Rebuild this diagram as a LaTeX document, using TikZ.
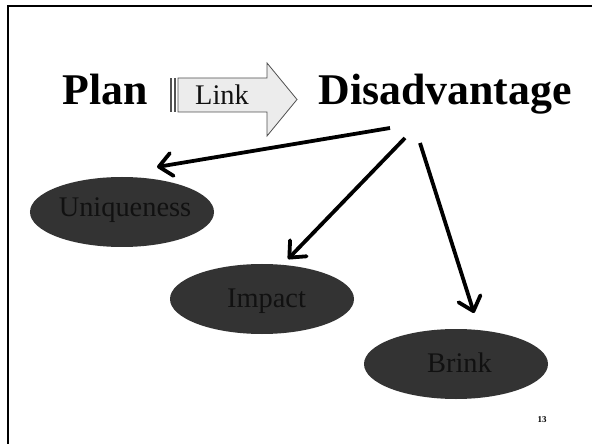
\documentclass[tikz,border=0pt]{standalone}
\usepackage{fontspec}
\setmainfont{Liberation Serif}
\usetikzlibrary{arrows.meta,shapes.geometric}
\definecolor{blobgray}{RGB}{51,51,51}
\definecolor{textdark}{RGB}{17,17,17}
\definecolor{arrowfill}{RGB}{236,236,236}
\definecolor{arrowline}{RGB}{80,80,80}
\begin{document}
\begin{tikzpicture}[x=1bp,y=-1bp,
  blob/.style={ellipse, fill=blobgray, minimum width=184bp, minimum height=70bp, inner sep=0pt},
  blobtext/.style={anchor=base, inner sep=0pt, text=textdark, font=\fontsize{28.5}{30}\selectfont},
  title/.style={anchor=base, inner sep=0pt, font=\fontsize{44}{48}\selectfont\bfseries},
  conn/.style={line width=3.8bp, -{Straight Barb[length=13bp,width=23bp,round]}},
  blockarrow/.style={fill=arrowfill, draw=arrowline, line width=0.8bp, line join=miter}]
\useasboundingbox (0,0) rectangle (592,444);
\fill[white] (0,0) rectangle (592,444);
% slide frame
\draw[line width=2.4bp] (8,6) rectangle (620,470);
% titles
\node[title] (plan) at (105,105) {Plan};
\node[title] (disadv) at (445,105) {Disadvantage};
% striped block arrow
\fill[arrowline] (170,78) rectangle (171.5,112);
\fill[arrowline] (174,78) rectangle (175.5,112);
\draw[blockarrow] (178,78) -- (267,78) -- (267,63) -- (297,99.5) -- (267,136) -- (267,112) -- (178,112) -- cycle;
\node[blobtext] (link) at (222,105) {Link};
% ellipses
\node[blob] (uniq) at (122,212) {};
\node[blobtext] (uniqtxt) at (125,217) {Uniqueness};
\node[blob] (impact) at (262,299) {};
\node[blobtext] (impacttxt) at (266.5,307) {Impact};
\node[blob] (brink) at (456,364) {};
\node[blobtext] (brinktxt) at (459.5,372) {Brink};
% connectors
\coordinate (s1) at (390,128);
\coordinate (t1) at (157,167);
\coordinate (s2) at (405,138);
\coordinate (t2) at (288,259);
\coordinate (s3) at (420,143);
\coordinate (t3) at (474,313);
\draw[conn] (s1) -- (t1);
\draw[conn] (s2) -- (t2);
\draw[conn] (s3) -- (t3);
% page number
\node[inner sep=0pt, font=\fontsize{9}{10}\selectfont\bfseries] (pagenum) at (542,420) {13};
\end{tikzpicture}
\end{document}
